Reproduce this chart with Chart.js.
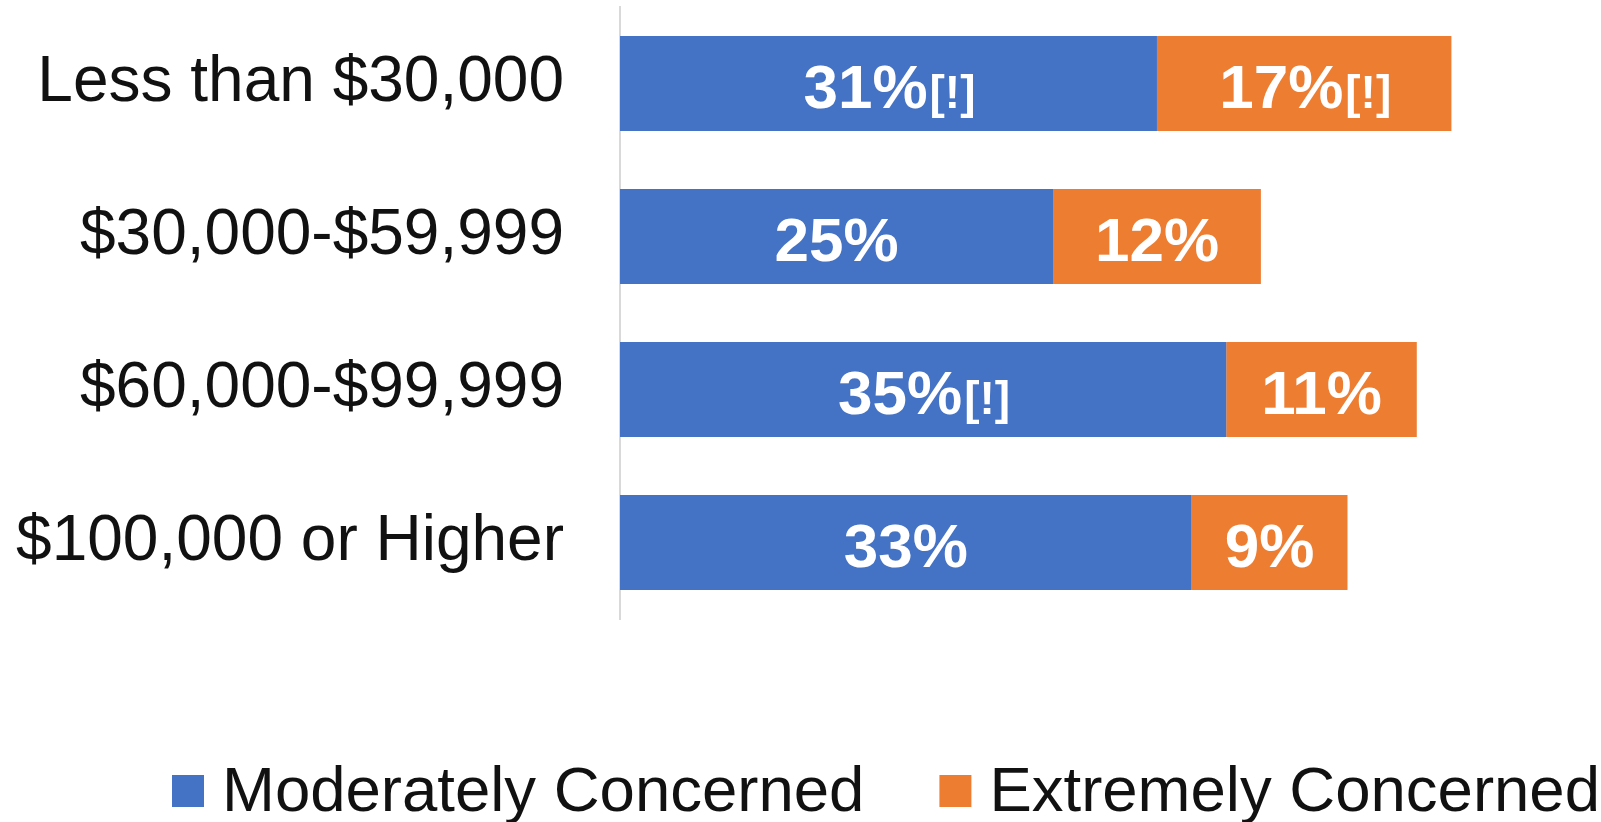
<!DOCTYPE html>
<html>
<head>
<meta charset="utf-8">
<script src="https://cdn.jsdelivr.net/npm/chart.js@4"></script>
<style>
  html, body { margin: 0; padding: 0; background: #fff; }
</style>
</head>
<body>
<canvas id="concernChart" width="1601" height="822"></canvas>
<script>
const incomeGroups = ['Less than $30,000', '$30,000-$59,999', '$60,000-$99,999', '$100,000 or Higher'];
const moderatelyValues = [31, 25, 35, 33];
const extremelyValues = [17, 12, 11, 9];
// [!] = estimate flagged as less reliable
const moderatelyFlags = [true, false, true, false];
const extremelyFlags = [true, false, false, false];
const seriesNames = ['Moderately Concerned', 'Extremely Concerned'];
const seriesColors = ['#4472C4', '#ED7D31'];

const FONT = '"Liberation Sans", Arial, sans-serif';

// white value labels centred in each segment, with a smaller [!] suffix
const segmentLabels = {
  id: 'segmentLabels',
  afterDatasetsDraw(chart) {
    const ctx = chart.ctx;
    ctx.save();
    ctx.fillStyle = '#ffffff';
    ctx.textBaseline = 'alphabetic';
    ctx.textAlign = 'left';
    chart.data.datasets.forEach((ds, di) => {
      chart.getDatasetMeta(di).data.forEach((bar, i) => {
        const main = ds.data[i] + '%';
        const flag = ds.flags[i] ? '[!]' : '';
        ctx.font = 'bold 62px ' + FONT;
        const w1 = ctx.measureText(main).width;
        ctx.font = 'bold 46px ' + FONT;
        const w2 = flag ? ctx.measureText(flag).width : 0;
        const cx = (bar.base + bar.x) / 2;
        const baseline = bar.y + 24;
        let x = cx - (w1 + w2) / 2;
        ctx.font = 'bold 62px ' + FONT;
        ctx.fillText(main, x, baseline);
        if (flag) {
          ctx.font = 'bold 46px ' + FONT;
          ctx.fillText(flag, x + w1 + 2, baseline);
        }
      });
    });
    ctx.restore();
  }
};

// legend row under the plot
const bottomLegend = {
  id: 'bottomLegend',
  afterDraw(chart) {
    const ctx = chart.ctx;
    ctx.save();
    ctx.font = '63.5px ' + FONT;
    ctx.textBaseline = 'alphabetic';
    let x = 172;
    chart.data.datasets.forEach((ds) => {
      ctx.fillStyle = ds.backgroundColor;
      ctx.fillRect(x, 775, 32, 32);
      x += 32 + 18;
      ctx.fillStyle = '#111111';
      ctx.fillText(ds.label, x, 811);
      x += ctx.measureText(ds.label).width + 75;
    });
    ctx.restore();
  }
};

new Chart(document.getElementById('concernChart'), {
  type: 'bar',
  data: {
    labels: incomeGroups,
    datasets: [
      { label: seriesNames[0], data: moderatelyValues, flags: moderatelyFlags, backgroundColor: seriesColors[0] },
      { label: seriesNames[1], data: extremelyValues, flags: extremelyFlags, backgroundColor: seriesColors[1] }
    ]
  },
  options: {
    indexAxis: 'y',
    responsive: false,
    devicePixelRatio: 1,
    animation: false,
    barPercentage: 0.62,
    categoryPercentage: 1,
    layout: { padding: { top: 7, right: 11, bottom: 203, left: 0 } },
    plugins: {
      legend: { display: false },
      tooltip: { enabled: false }
    },
    scales: {
      x: { stacked: true, min: 0, max: 56, display: false },
      y: {
        stacked: true,
        grid: { display: false, drawTicks: false },
        border: { color: '#d9d9d9', width: 2 },
        ticks: { color: '#111111', padding: 56, font: { family: FONT, size: 64 } },
        afterFit(scale) {
          // fixed label column; the big tick padding shouldn't push the plot down
          scale.width = 620;
          scale.paddingTop = 0;
          scale.paddingBottom = 0;
        }
      }
    }
  },
  plugins: [segmentLabels, bottomLegend]
});
</script>
</body>
</html>
